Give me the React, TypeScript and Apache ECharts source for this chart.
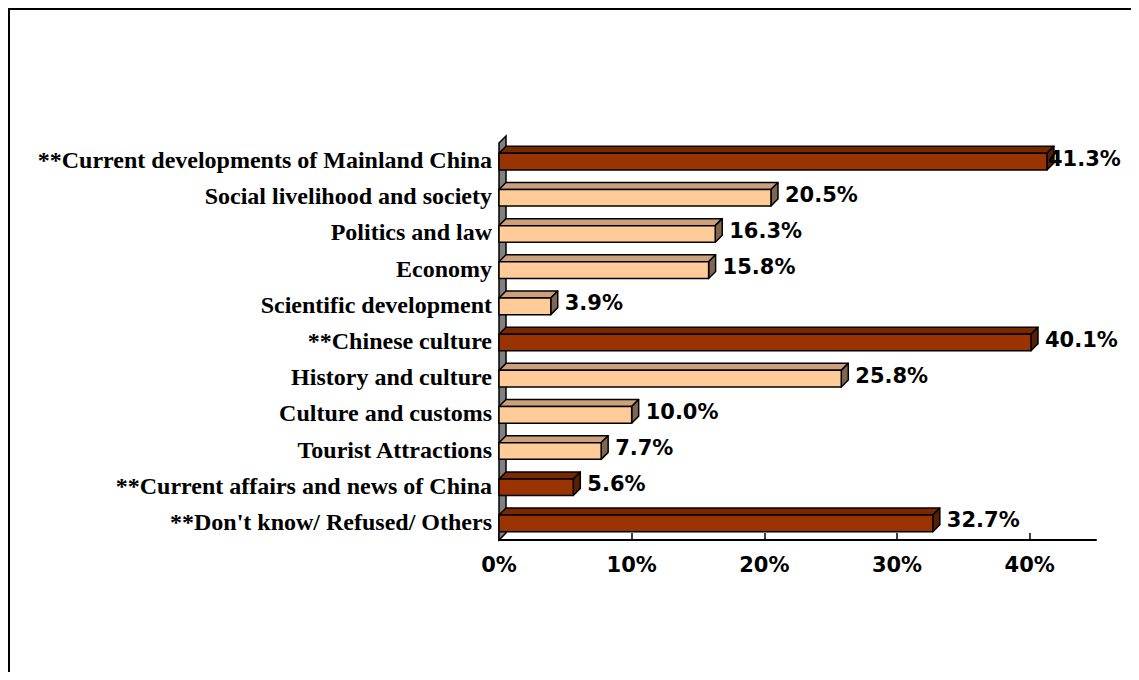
import React, { useEffect, useRef } from "react";
import * as echarts from "echarts";

const categories = [
  "**Current developments of Mainland China",
  "Social livelihood and society",
  "Politics and law",
  "Economy",
  "Scientific development",
  "**Chinese culture",
  "History and culture",
  "Culture and customs",
  "Tourist Attractions",
  "**Current affairs and news of China",
  "**Don't know/ Refused/ Others",
];
const values = [41.3, 20.5, 16.3, 15.8, 3.9, 40.1, 25.8, 10.0, 7.7, 5.6, 32.7];
const tickValues = [0, 10, 20, 30, 40];

const DARK = { front: "#993300", top: "#7a2800", side: "#5a1e00" };
const LIGHT = { front: "#FFCC99", top: "#CCA07C", side: "#806650" };
const DEPTH = 7;
const LABEL_RIGHT_LIMIT = 1113;

export default function App() {
  const ref = useRef<HTMLDivElement>(null);
  useEffect(() => {
    if (!ref.current) return;
    const chart = echarts.init(ref.current, undefined, { renderer: "svg" });
    const barData = values.map((v, i) => [v, i]);
    chart.setOption({
      animation: false,
      backgroundColor: "#ffffff",
      graphic: [
        {
          type: "rect",
          silent: true,
          shape: { x: 1, y: 1, width: 1127, height: 800 },
          style: { fill: "none", stroke: "#000", lineWidth: 2 },
        },
      ],
      grid: { left: 491, right: 43, top: 134, bottom: 132, containLabel: false },
      xAxis: {
        type: "value",
        min: 0,
        max: 45,
        interval: 10,
        splitLine: { show: false },
        axisLine: { show: true, lineStyle: { color: "#000", width: 2 } },
        axisTick: {
          show: true,
          inside: true,
          length: 7,
          customValues: tickValues,
          lineStyle: { color: "#000", width: 1.5 },
        },
        axisLabel: {
          customValues: tickValues,
          formatter: (v: number) => `${v}%`,
          fontFamily: "DejaVu Sans",
          fontWeight: "bold",
          fontSize: 21,
          color: "#000",
          margin: 14,
        },
      },
      yAxis: {
        type: "category",
        data: categories,
        inverse: true,
        axisLine: { show: false },
        axisTick: { show: false },
        splitLine: { show: false },
        axisLabel: {
          fontFamily: "Liberation Serif",
          fontWeight: "bold",
          fontSize: 24,
          color: "#000",
          margin: 7,
          interval: 0,
        },
      },
      series: [
        {
          type: "custom",
          z: 1,
          silent: true,
          data: [[0, 0]],
          encode: { x: 0, y: 1 },
          renderItem: (params: any, api: any) => {
            const cs = params.coordSys;
            const x0 = api.coord([0, 0])[0];
            const gy = cs.y;
            const yB = cs.y + cs.height;
            return {
              type: "polygon",
              shape: {
                points: [
                  [x0, gy + 1],
                  [x0 + DEPTH, gy - 6],
                  [x0 + DEPTH, yB - DEPTH],
                  [x0, yB],
                ],
              },
              style: { fill: "#808080", stroke: "#000", lineWidth: 1.5 },
            };
          },
        },
        {
          type: "custom",
          z: 2,
          silent: true,
          data: barData,
          encode: { x: 0, y: 1 },
          renderItem: (params: any, api: any) => {
            const i = params.dataIndex;
            const v = api.value(0);
            const c = api.value(1);
            const start = api.coord([0, c]);
            const end = api.coord([v, c]);
            const band = api.size([0, 1])[1];
            const h = band * 0.46;
            const cy = start[1] + 1.5;
            const yt = cy - h / 2;
            const yb = cy + h / 2;
            const x0 = start[0];
            const x1 = end[0];
            const col = categories[i].startsWith("**") ? DARK : LIGHT;
            const stroke = { stroke: "#000", lineWidth: 1.5, lineJoin: "round" };
            const text = `${v.toFixed(1)}%`;
            const estW = text.length * 14.6;
            const lx = Math.min(x1 + 14, LABEL_RIGHT_LIMIT - estW);
            return {
              type: "group",
              children: [
                {
                  type: "polygon",
                  shape: {
                    points: [
                      [x0, yt],
                      [x0 + DEPTH, yt - DEPTH],
                      [x1 + DEPTH, yt - DEPTH],
                      [x1, yt],
                    ],
                  },
                  style: { fill: col.top, ...stroke },
                },
                {
                  type: "polygon",
                  shape: {
                    points: [
                      [x1, yt],
                      [x1 + DEPTH, yt - DEPTH],
                      [x1 + DEPTH, yb - DEPTH],
                      [x1, yb],
                    ],
                  },
                  style: { fill: col.side, ...stroke },
                },
                {
                  type: "rect",
                  shape: { x: x0, y: yt, width: x1 - x0, height: h },
                  style: { fill: col.front, ...stroke },
                },
                {
                  type: "text",
                  x: lx,
                  y: cy - 3,
                  style: {
                    text,
                    fontFamily: "DejaVu Sans",
                    fontWeight: "bold",
                    fontSize: 21,
                    fill: "#000",
                    align: "left",
                    verticalAlign: "middle",
                  },
                },
              ],
            };
          },
        },
      ],
    });
    return () => chart.dispose();
  }, []);
  return <div ref={ref} style={{ width: 1131, height: 664 }} />;
}
